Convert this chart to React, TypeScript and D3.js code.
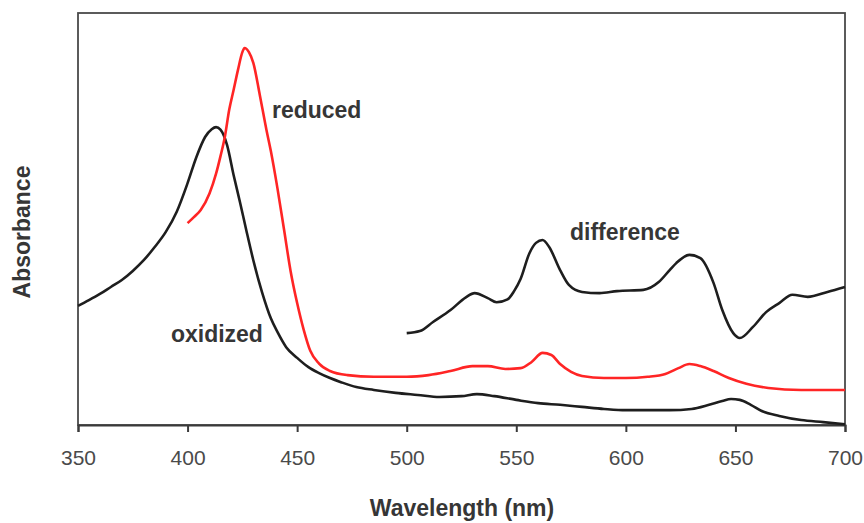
import React, { useEffect, useRef } from 'react';
import * as d3 from 'd3';

// wavelengths (nm) and absorbance (arbitrary units)
const oxidizedWl = [350, 355, 360, 365, 370, 375, 380, 385, 390, 395, 400, 404, 408, 411, 413, 415, 418, 421, 424, 427, 430, 434, 438, 441, 445, 450, 455, 460, 465, 470, 477, 485, 495, 505, 515, 525, 532, 540, 550, 560, 570, 580, 590, 600, 610, 620, 630, 638, 644, 648, 652, 657, 662, 670, 680, 690, 700];
const oxidizedAbs = [0.289, 0.303, 0.318, 0.335, 0.352, 0.374, 0.4, 0.432, 0.468, 0.517, 0.587, 0.65, 0.699, 0.718, 0.723, 0.717, 0.68, 0.607, 0.539, 0.468, 0.4, 0.322, 0.259, 0.226, 0.189, 0.163, 0.141, 0.126, 0.114, 0.104, 0.092, 0.085, 0.078, 0.073, 0.068, 0.07, 0.075, 0.07, 0.061, 0.053, 0.049, 0.044, 0.039, 0.036, 0.036, 0.036, 0.039, 0.049, 0.058, 0.063, 0.061, 0.049, 0.034, 0.022, 0.012, 0.007, 0.002];

const reducedWl = [400, 403, 406, 410, 413, 415, 417, 419, 421, 423, 425, 426, 428, 430, 433, 436, 438, 441, 444, 447, 450, 453, 456, 460, 465, 473, 485, 500, 510, 520, 530, 537, 545, 552, 557, 562, 566, 570, 575, 580, 590, 600, 610, 618, 624, 629, 634, 640, 647, 655, 665, 680, 700];
const reducedAbs = [0.49, 0.505, 0.522, 0.562, 0.61, 0.652, 0.699, 0.765, 0.813, 0.862, 0.905, 0.915, 0.905, 0.879, 0.8, 0.716, 0.665, 0.575, 0.475, 0.374, 0.296, 0.231, 0.18, 0.149, 0.131, 0.121, 0.117, 0.117, 0.121, 0.131, 0.143, 0.143, 0.136, 0.138, 0.153, 0.175, 0.17, 0.148, 0.129, 0.119, 0.114, 0.114, 0.117, 0.124, 0.138, 0.148, 0.143, 0.131, 0.114, 0.1, 0.09, 0.085, 0.085];

const differenceWl = [500, 506, 512, 520, 527, 531, 537, 541, 546, 549, 552, 556, 559, 562, 565, 570, 574, 580, 588, 596, 608, 615, 620, 623, 629, 634, 640, 644, 649, 652, 658, 664, 670, 676, 683, 692, 700];
const differenceAbs = [0.223, 0.228, 0.25, 0.279, 0.31, 0.32, 0.308, 0.298, 0.305, 0.325, 0.355, 0.417, 0.442, 0.449, 0.432, 0.376, 0.34, 0.323, 0.32, 0.325, 0.328, 0.347, 0.376, 0.393, 0.413, 0.405, 0.345, 0.279, 0.223, 0.211, 0.238, 0.274, 0.296, 0.316, 0.311, 0.323, 0.335];

const xTicks = [350, 400, 450, 500, 550, 600, 650, 700];

// curve labels: [text, wavelength, absorbance]
const labelText = ['reduced', 'difference', 'oxidized'];
const labelWl = [438.5, 574.5, 392.4];
const labelAbs = [0.745, 0.449, 0.201];

export default function App() {
  const ref = useRef<SVGSVGElement>(null);

  useEffect(() => {
    const svg = d3.select(ref.current);
    svg.selectAll('*').remove();

    const left = 78, right = 845, top = 13, bottom = 425;
    const font = 'Liberation Sans, Arial, sans-serif';

    const x = d3.scaleLinear().domain([350, 700]).range([left, right]);
    const y = d3.scaleLinear().domain([0, 1]).range([bottom, top]);

    // frame
    svg.append('rect')
      .attr('x', left).attr('y', top)
      .attr('width', right - left).attr('height', bottom - top)
      .attr('fill', 'none').attr('stroke', '#4a4a4a').attr('stroke-width', 1.8);

    // x axis
    const xAxis = svg.append('g')
      .attr('transform', `translate(0,${bottom})`)
      .call(d3.axisBottom(x).tickValues(xTicks).tickSize(7).tickPadding(18).tickFormat(d3.format('d')));
    xAxis.select('.domain').attr('stroke', '#3a3a3a').attr('stroke-width', 2);
    xAxis.selectAll('.tick line').attr('stroke', '#3a3a3a').attr('stroke-width', 2);
    xAxis.selectAll('.tick text')
      .attr('font-family', font).attr('font-size', 21).attr('fill', '#4a4a4a');

    const line = d3.line<[number, number]>()
      .x(d => x(d[0]))
      .y(d => y(d[1]))
      .curve(d3.curveMonotoneX);

    const series = [
      { wl: oxidizedWl, abs: oxidizedAbs, color: '#1e1e1e' },
      { wl: reducedWl, abs: reducedAbs, color: '#ff2525' },
      { wl: differenceWl, abs: differenceAbs, color: '#1e1e1e' },
    ];

    series.forEach(s => {
      const pts = s.wl.map((w, i) => [w, s.abs[i]] as [number, number]);
      svg.append('path')
        .attr('d', line(pts))
        .attr('fill', 'none')
        .attr('stroke', s.color)
        .attr('stroke-width', 2.6)
        .attr('stroke-linejoin', 'round');
    });

    // curve labels
    svg.selectAll('text.lbl')
      .data(labelText)
      .enter()
      .append('text')
      .attr('class', 'lbl')
      .attr('x', (d, i) => x(labelWl[i]))
      .attr('y', (d, i) => y(labelAbs[i]))
      .attr('font-family', font)
      .attr('font-weight', 'bold')
      .attr('font-size', 23)
      .attr('fill', '#363636')
      .text(d => d);

    // axis titles
    svg.append('text')
      .attr('x', 462).attr('y', 516)
      .attr('text-anchor', 'middle')
      .attr('font-family', font).attr('font-weight', 'bold').attr('font-size', 23)
      .attr('fill', '#363636')
      .text('Wavelength (nm)');

    svg.append('text')
      .attr('transform', 'translate(30,232) rotate(-90)')
      .attr('text-anchor', 'middle')
      .attr('font-family', font).attr('font-weight', 'bold').attr('font-size', 23)
      .attr('fill', '#363636')
      .text('Absorbance');
  }, []);

  return (
    <svg
      ref={ref}
      width={864}
      height={523}
      style={{ position: 'absolute', left: 0, top: 0, background: 'white' }}
    />
  );
}
